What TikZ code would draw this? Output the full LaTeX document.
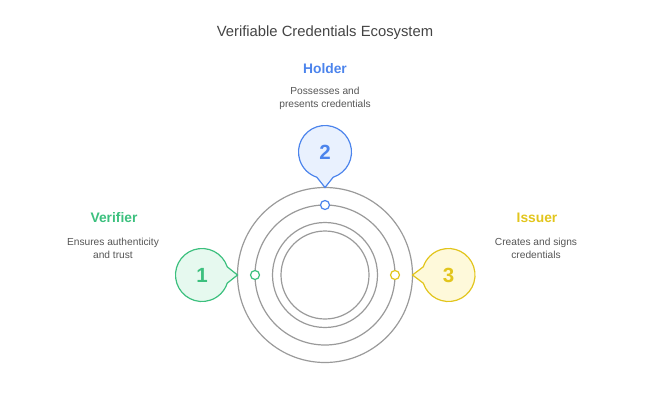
\documentclass[tikz,border=0pt]{standalone}
\usepackage{fontspec}
\setmainfont{Liberation Sans}
\begin{document}
\definecolor{ringgray}{HTML}{9A9A9A}
\definecolor{txtgray}{HTML}{555555}
\definecolor{titlegray}{HTML}{444444}
\definecolor{cblue}{HTML}{4C84EC}
\definecolor{cbluef}{HTML}{E9F1FE}
\definecolor{cgreen}{HTML}{3CC07E}
\definecolor{cgreenf}{HTML}{E6F9EF}
\definecolor{cyellow}{HTML}{E2C51C}
\definecolor{cyellowf}{HTML}{FEF9DA}
\begin{tikzpicture}[x=1pt,y=1pt,
  ring/.style={draw=ringgray,line width=1.2pt},
  dotmark/.style={line width=1.2pt,fill=white},
  bubble/.style={line width=1.2pt},
  num/.style={font=\fontsize{20.5}{24}\selectfont\bfseries},
  head/.style={font=\fontsize{13.8}{16}\selectfont\bfseries},
  desc/.style={font=\fontsize{10.2}{13}\selectfont,text=txtgray,align=center},
]
\useasboundingbox (0,0) rectangle (650,400);
\coordinate (c) at (325,125);
% rings
\draw[ring] (c) circle[radius=87.5];
\draw[ring] (c) circle[radius=70];
\draw[ring] (c) circle[radius=52.5];
\draw[ring] (c) circle[radius=44];
% dots
\draw[dotmark,draw=cblue] (325,195) circle[radius=4.5];
\draw[dotmark,draw=cgreen] (255,125) circle[radius=4.5];
\draw[dotmark,draw=cyellow] (395,125) circle[radius=4.5];
% bubbles
\coordinate (b2) at (325,248);
\coordinate (b1) at (202,125);
\coordinate (b3) at (448.5,125);
\draw[bubble,draw=cblue,fill=cbluef] (b2) ++(-72:26.5) arc[start angle=-72,end angle=252,radius=26.5] -- (325,212.5) -- cycle;
\draw[bubble,draw=cgreen,fill=cgreenf] (b1) ++(18:26.5) arc[start angle=18,end angle=342,radius=26.5] -- (237.5,125) -- cycle;
\draw[bubble,draw=cyellow,fill=cyellowf] (b3) ++(198:26.5) arc[start angle=198,end angle=522,radius=26.5] -- (412.5,125) -- cycle;
\node[num,text=cblue] (n2) at (b2) {2};
\node[num,text=cgreen] (n1) at (b1) {1};
\node[num,text=cyellow] (n3) at (b3) {3};
% texts
\node[font=\fontsize{14.8}{17}\selectfont,text=titlegray] (title) at (325,367) {Verifiable Credentials Ecosystem};
\node[head,text=cblue] (h2) at (325,331) {Holder};
\node[desc] (d2) at (325,301.5) {Possesses and\\presents credentials};
\node[head,text=cgreen] (h1) at (114,182) {Verifier};
\node[desc] (d1) at (113,151.5) {Ensures authenticity\\and trust};
\node[head,text=cyellow] (h3) at (537,182) {Issuer};
\node[desc] (d3) at (536,151.5) {Creates and signs\\credentials};
\end{tikzpicture}
\end{document}
